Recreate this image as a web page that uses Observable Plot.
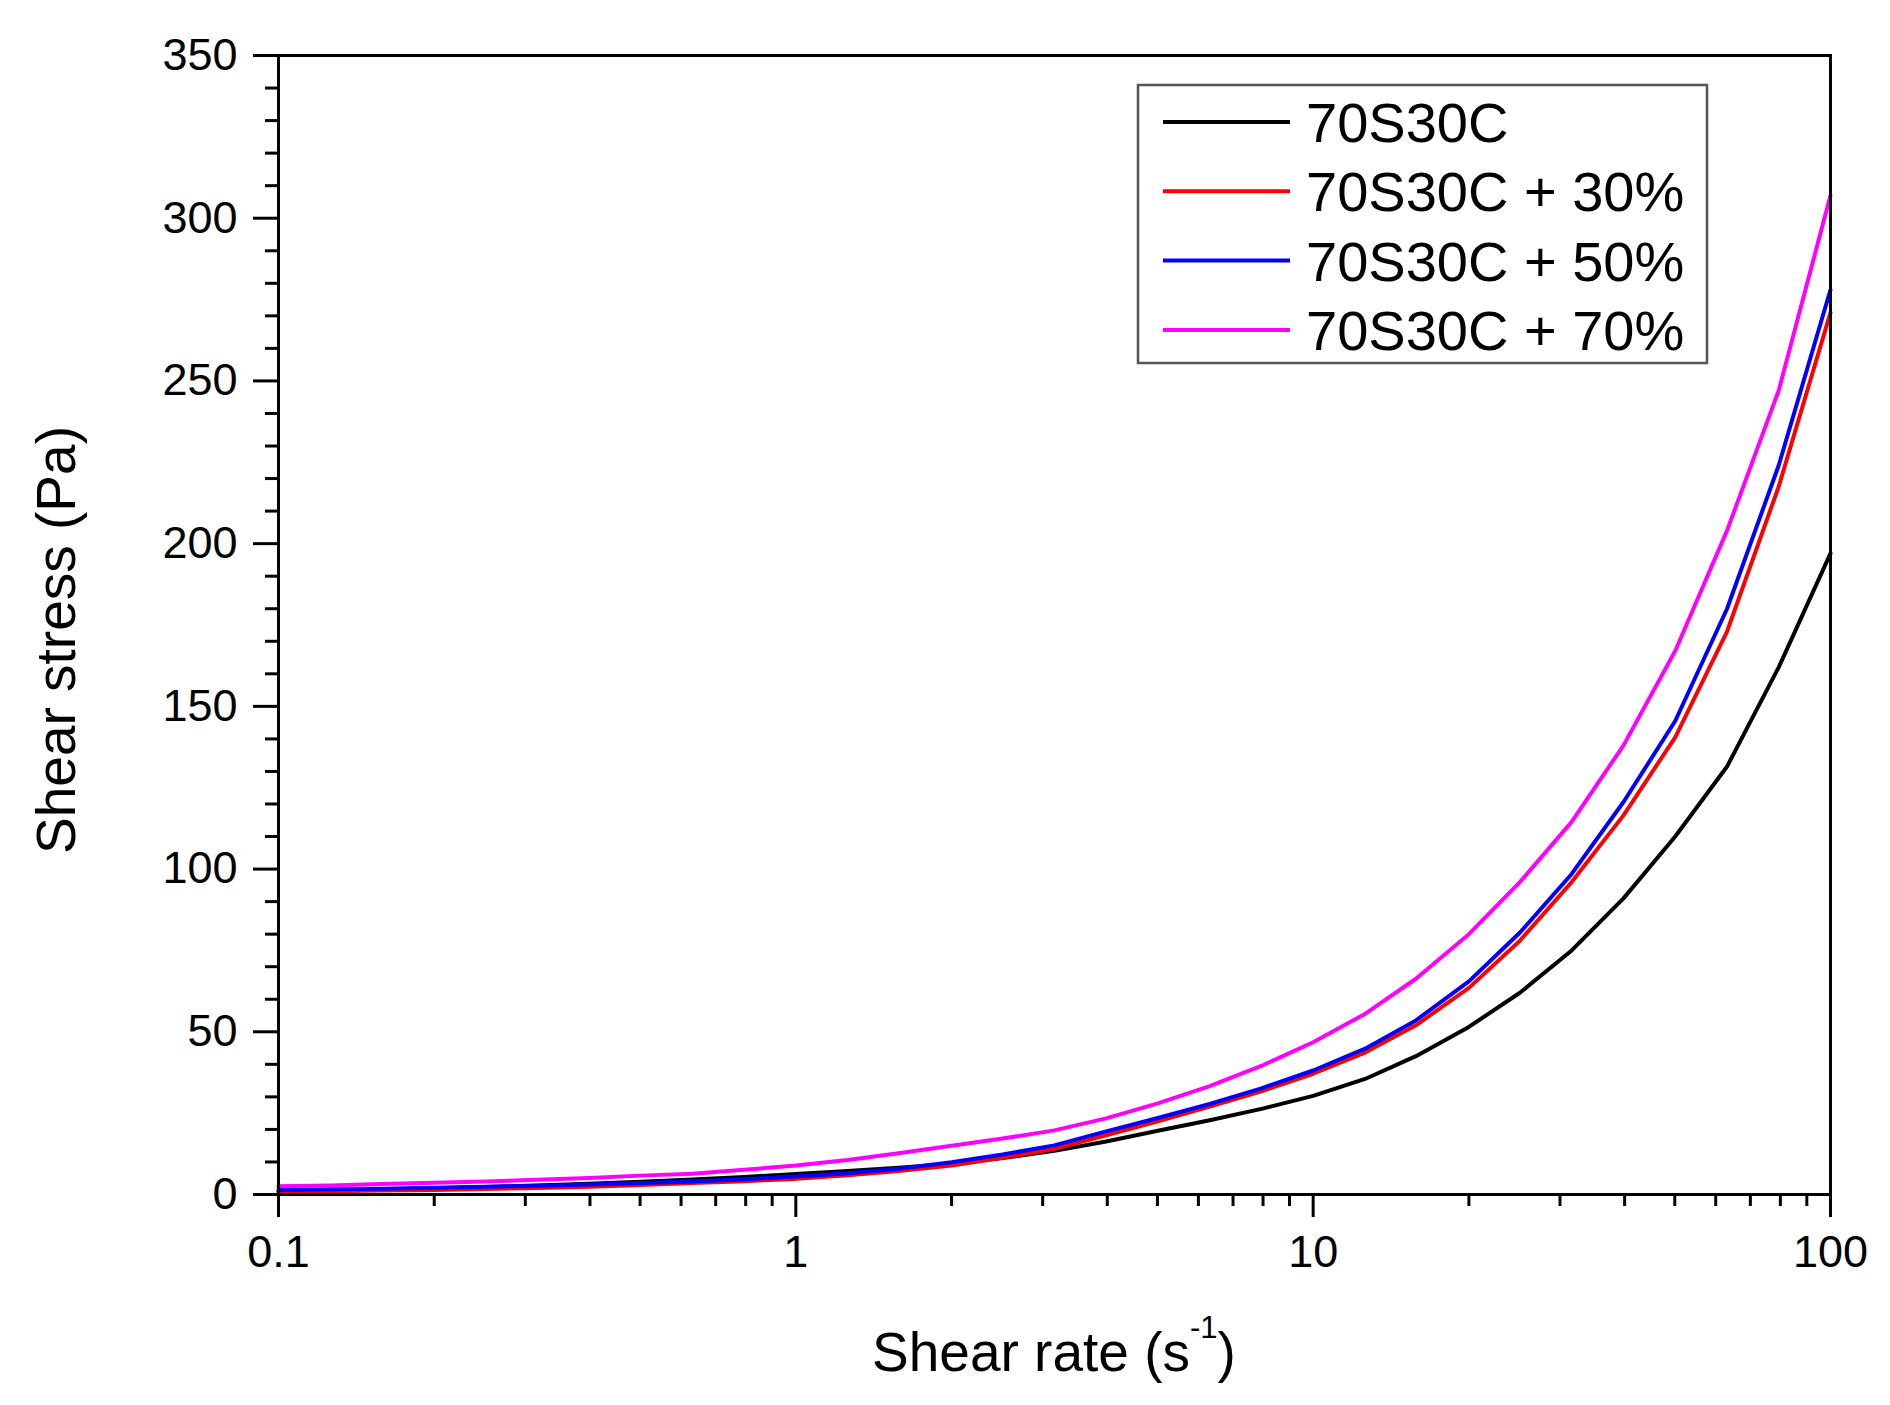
<!DOCTYPE html>
<html><head><meta charset="utf-8">
<script src="https://cdn.jsdelivr.net/npm/d3@7"></script>
<script src="https://cdn.jsdelivr.net/npm/@observablehq/plot@0.6"></script>
<style>body{margin:0;background:#fff;} svg{display:block;}</style>
</head><body><div id="chart"></div>
<script>
const shearRate = [0.1, 0.126, 0.158, 0.2, 0.251, 0.316, 0.398, 0.501, 0.631, 0.794,
  1, 1.26, 1.58, 2, 2.51, 3.16, 3.98, 5.01, 6.31, 7.94,
  10, 12.6, 15.8, 20, 25.1, 31.6, 39.8, 50.1, 63.1, 79.4, 100];
const stressBase = [0.9, 1.2, 1.5, 1.9, 2.3, 2.8, 3.3, 3.9, 4.6, 5.4,
  6.3, 7.2, 8.2, 9.4, 11.2, 13.4, 16.3, 19.6, 22.8, 26.3,
  30.3, 35.5, 42.5, 51.5, 62, 75, 91, 110, 131.5, 162, 197];
const stress30 = [0.8, 1.0, 1.2, 1.4, 1.7, 2.0, 2.4, 2.9, 3.5, 4.1,
  4.8, 5.9, 7.2, 8.9, 11.3, 14.0, 18.2, 22.5, 27.0, 31.7,
  37.1, 43.6, 52.0, 63.5, 78, 96, 116.5, 140.5, 173, 217.5, 271];
const stress50 = [1.4, 1.6, 1.8, 2.1, 2.4, 2.7, 3.1, 3.5, 4.0, 4.7,
  5.5, 6.5, 7.9, 9.9, 12.3, 15.1, 19.4, 23.5, 27.8, 32.6,
  38.1, 44.8, 53.5, 65.5, 80.5, 98.5, 120.6, 145.5, 180, 224, 278];
const stress70 = [2.5, 2.8, 3.2, 3.6, 4.0, 4.5, 5.1, 5.8, 6.4, 7.6,
  8.9, 10.6, 12.7, 15.0, 17.2, 19.7, 23.4, 28.0, 33.3, 39.5,
  46.8, 55.5, 66.3, 80, 96, 114.5, 138, 167, 204, 247, 307];

const seriesNames = ["70S30C", "70S30C + 30%", "70S30C + 50%", "70S30C + 70%"];
const seriesColors = ["#000000", "#ff0000", "#0000ff", "#ff00ff"];
const seriesValues = [stressBase, stress30, stress50, stress70];

const xTicks = [0.1, 1, 10, 100];
const xTickLabels = ["0.1", "1", "10", "100"];
const xMinorTicks = [0.2, 0.3, 0.4, 0.5, 0.6, 0.7, 0.8, 0.9, 2, 3, 4, 5, 6, 7, 8, 9, 20, 30, 40, 50, 60, 70, 80, 90];
const yTicks = [0, 50, 100, 150, 200, 250, 300, 350];
const yMinorTicks = [10, 20, 30, 40, 60, 70, 80, 90, 110, 120, 130, 140, 160, 170, 180, 190,
  210, 220, 230, 240, 260, 270, 280, 290, 310, 320, 330, 340];

const rows = [];
seriesNames.forEach((name, i) => {
  shearRate.forEach((x, j) => rows.push({series: name, x, y: seriesValues[i][j]}));
});

const W = 1890, H = 1405;
const mL = 278, mR = 60, mT = 55, mB = 211;
const font = "'Liberation Sans', Arial, sans-serif";

const plot = Plot.plot({
  width: W, height: H,
  marginLeft: mL, marginRight: mR, marginTop: mT, marginBottom: mB,
  style: {fontFamily: font, color: "#000", background: "#fff", overflow: "visible"},
  x: {type: "log", domain: [0.1, 100], label: null},
  y: {domain: [0, 350], label: null},
  color: {domain: seriesNames, range: seriesColors},
  marks: [
    Plot.axisX(xMinorTicks, {tickSize: 12, strokeWidth: 3, text: null}),
    Plot.axisX(xTicks, {tickSize: 23, tickPadding: 18, strokeWidth: 3, fontSize: 45,
      tickFormat: (d) => xTickLabels[xTicks.indexOf(d)]}),
    Plot.axisY(yMinorTicks, {tickSize: 13, strokeWidth: 3, text: null}),
    Plot.axisY(yTicks, {tickSize: 25, tickPadding: 16, strokeWidth: 3, fontSize: 45}),
    Plot.line(rows, {x: "x", y: "y", z: "series", stroke: "series", strokeWidth: 4, curve: "linear"}),
    Plot.frame({stroke: "#000", strokeWidth: 3})
  ]
});

const svg = d3.select(plot);
// axis titles
svg.append("text")
  .attr("transform", "translate(75,640) rotate(-90)")
  .attr("text-anchor", "middle")
  .attr("font-family", font).attr("font-size", 55).attr("fill", "#000")
  .text("Shear stress (Pa)");
const xt = svg.append("text")
  .attr("x", 1054).attr("y", 1371)
  .attr("text-anchor", "middle")
  .attr("font-family", font).attr("font-size", 55).attr("fill", "#000");
xt.append("tspan").text("Shear rate (s");
xt.append("tspan").attr("font-size", 31).attr("dy", -33).text("-1");
xt.append("tspan").attr("dy", 33).text(")");

// legend
const lg = svg.append("g").attr("text-anchor", "start");
lg.append("rect").attr("x", 1138).attr("y", 85).attr("width", 569).attr("height", 278)
  .attr("fill", "#fff").attr("stroke", "#555").attr("stroke-width", 2.5);
seriesNames.forEach((name, i) => {
  const cy = 122 + i * 69.3;
  lg.append("line").attr("x1", 1163).attr("x2", 1290).attr("y1", cy).attr("y2", cy)
    .attr("stroke", seriesColors[i]).attr("stroke-width", 4);
  lg.append("text").attr("x", 1306).attr("y", cy + 20).attr("text-anchor", "start")
    .attr("font-family", font).attr("font-size", 56).attr("fill", "#000").text(name);
});

document.getElementById("chart").appendChild(plot);
</script>
</body></html>
